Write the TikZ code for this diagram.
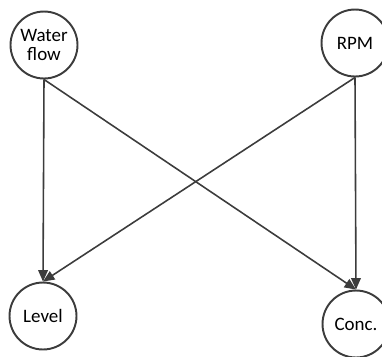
\documentclass[tikz,border=0pt]{standalone}
\usepackage{fontspec}
\setmainfont{Carlito}
\usepackage{tikz}
\usetikzlibrary{arrows.meta}

\definecolor{edgegray}{HTML}{3C3C3C}

\begin{document}
\begin{tikzpicture}[x=0.02cm, y=-0.02cm,
        var/.style={shape=circle, draw=edgegray, line width=1.1pt, minimum size=1.34cm,
            inner sep=0pt, align=center, font=\fontsize{10.8}{11}\selectfont},
        link/.style={draw=edgegray, line width=0.9pt, -{Triangle[length=6.5pt, width=5.5pt]}}]
        \useasboundingbox (0, 0) rectangle (382, 356);
        \clip (0, 0) rectangle (382, 356);
        \node[var] (flow) at (44, 45) {Water\\flow};
        \node[var] (rpm) at (355, 43) {RPM};
        \node[var] (level) at (43, 316) {Level};
        \node[var] (conc) at (356, 324) {Conc.};
        \draw[link] (flow.south) to (level.north);
        \draw[link] (flow.south) to (conc.north);
        \draw[link] (rpm.south) to (level.north);
        \draw[link] (rpm.south) to (conc.north);
    \end{tikzpicture}
\end{document}
